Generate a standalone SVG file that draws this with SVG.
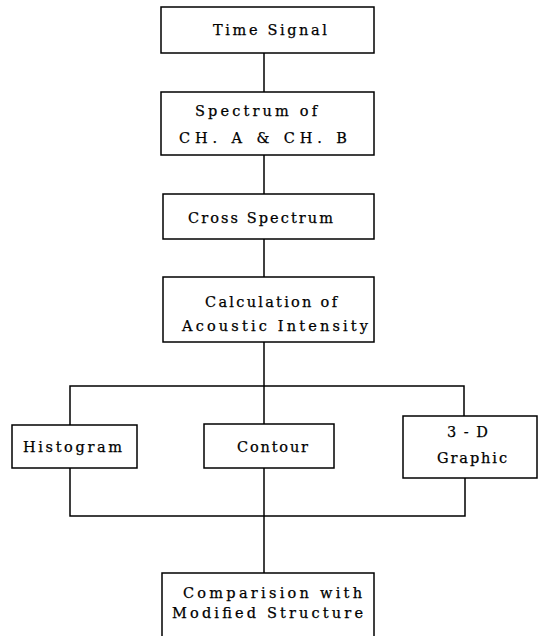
<svg xmlns="http://www.w3.org/2000/svg" width="542" height="636" viewBox="0 0 542 636">
<style>
.box{fill:#fff;stroke:#000;stroke-width:1.5}
.ln{fill:none;stroke:#000;stroke-width:1.5}
text{font-family:"DejaVu Serif","Liberation Serif",serif;font-size:14.5px;fill:#000;stroke:#000;stroke-width:0.25}
</style>
<rect width="542" height="636" fill="#fff"/>
<g id="connectors">
<line class="ln" x1="264" y1="53" x2="264" y2="92"/>
<line class="ln" x1="264" y1="155" x2="264" y2="194"/>
<line class="ln" x1="264" y1="239" x2="264" y2="277"/>
<line class="ln" x1="264" y1="342" x2="264" y2="573"/>
<polyline class="ln" points="70,425 70,386 464,386 464,416"/>
<polyline class="ln" points="70,468 70,516 465,516 465,478"/>
</g>
<g id="time-signal">
<rect class="box" x="161" y="7" width="213" height="46"/>
<text x="213" y="35" textLength="114" lengthAdjust="spacing">Time  Signal</text>
</g>
<g id="spectrum">
<rect class="box" x="161" y="92" width="213" height="63"/>
<text x="195" y="116" textLength="122" lengthAdjust="spacing">Spectrum   of</text>
<text x="179" y="143" textLength="168" lengthAdjust="spacing">CH. A  &amp;  CH. B</text>
</g>
<g id="cross-spectrum">
<rect class="box" x="163" y="194" width="211" height="45"/>
<text x="188" y="223" textLength="145" lengthAdjust="spacing">Cross  Spectrum</text>
</g>
<g id="calculation">
<rect class="box" x="163" y="277" width="211" height="65"/>
<text x="205" y="307" textLength="132" lengthAdjust="spacing">Calculation  of</text>
<text x="182" y="331" textLength="186" lengthAdjust="spacing">Acoustic  Intensity</text>
</g>
<g id="histogram">
<rect class="box" x="12" y="425" width="125" height="43"/>
<text x="23" y="452" textLength="99" lengthAdjust="spacing">Histogram</text>
</g>
<g id="contour">
<rect class="box" x="204" y="424" width="130" height="44"/>
<text x="237" y="452" textLength="71" lengthAdjust="spacing">Contour</text>
</g>
<g id="graphic-3d">
<rect class="box" x="403" y="416" width="134" height="62"/>
<text x="447" y="437" textLength="41" lengthAdjust="spacing">3 - D</text>
<text x="437" y="463" textLength="70" lengthAdjust="spacing">Graphic</text>
</g>
<g id="comparision">
<rect class="box" x="162" y="573" width="212" height="70"/>
<text x="183" y="598" textLength="179" lengthAdjust="spacing">Comparision  with</text>
<text x="172" y="618" textLength="191" lengthAdjust="spacing">Modified  Structure</text>
</g>
</svg>
